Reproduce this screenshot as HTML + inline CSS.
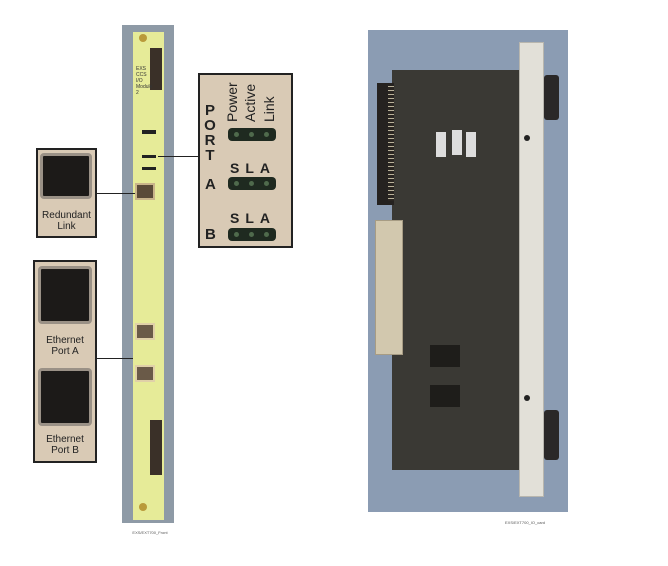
<!DOCTYPE html>
<html><head><style>
body{margin:0;width:668px;height:566px;background:#fff;position:relative;overflow:hidden;font-family:"Liberation Sans",sans-serif}
div{position:absolute;box-sizing:border-box}
.box{background:#d9cab5;border:2px solid #222}
.jack{background:#1c1a18;border:3px solid #9a9186;border-radius:4px}
.strip{background:#1f2a20;border-radius:4px}
.dot{width:5px;height:5px;border-radius:50%;background:#4f6a4c;top:4px}
.line{background:#222;height:1px}
.lbl{font-size:10px;color:#222;text-align:center;line-height:11px}
.sla{font-size:14px;font-weight:bold;color:#222;letter-spacing:6px}
.rot{transform:rotate(-90deg);transform-origin:left top;font-size:14px;color:#222;white-space:nowrap}
</style></head><body>
<!-- left faceplate -->
<div style="left:122px;top:25px;width:52px;height:498px;background:#8e9aa6"></div>
<div style="left:133px;top:32px;width:31px;height:488px;background:#e6eb98"></div>
<div style="left:150px;top:48px;width:12px;height:42px;background:#3a3028"></div>
<div style="left:150px;top:420px;width:12px;height:55px;background:#3a3028"></div>
<div style="left:139px;top:34px;width:8px;height:8px;border-radius:50%;background:#b99a3a"></div>
<div style="left:139px;top:503px;width:8px;height:8px;border-radius:50%;background:#b99a3a"></div>
<div style="left:136px;top:66px;font-size:5px;line-height:6px;color:#333">EXS<br>CCS<br>I/O<br>Module<br>2</div>
<div style="left:142px;top:130px;width:14px;height:4px;background:#222"></div>
<div style="left:142px;top:155px;width:14px;height:3px;background:#222"></div>
<div style="left:142px;top:167px;width:14px;height:3px;background:#222"></div>
<div style="left:135px;top:183px;width:20px;height:17px;background:#5a4a38;border:2px solid #c9b48a"></div>
<div style="left:135px;top:323px;width:20px;height:17px;background:#6a5a48;border:2px solid #e0d0a8"></div>
<div style="left:135px;top:365px;width:20px;height:17px;background:#6a5a48;border:2px solid #e0d0a8"></div>
<div style="left:125px;top:530px;width:50px;font-size:4px;color:#555;text-align:center">EXS/EXT700_Front</div>
<!-- connector lines -->
<div class="line" style="left:97px;top:193px;width:38px"></div>
<div class="line" style="left:97px;top:358px;width:36px"></div>
<div class="line" style="left:158px;top:156px;width:40px"></div>
<!-- redundant box -->
<div class="box" style="left:36px;top:148px;width:61px;height:90px"></div>
<div class="jack" style="left:40px;top:153px;width:52px;height:46px"></div>
<div class="lbl" style="left:36px;top:210px;width:61px">Redundant<br>Link</div>
<!-- ethernet box -->
<div class="box" style="left:33px;top:260px;width:64px;height:203px"></div>
<div class="jack" style="left:38px;top:266px;width:54px;height:58px"></div>
<div class="lbl" style="left:33px;top:335px;width:64px">Ethernet<br>Port A</div>
<div class="jack" style="left:38px;top:368px;width:54px;height:58px"></div>
<div class="lbl" style="left:33px;top:434px;width:64px">Ethernet<br>Port B</div>
<!-- LED box -->
<div class="box" style="left:198px;top:73px;width:95px;height:175px"></div>
<div style="left:203px;top:103px;font-size:15px;font-weight:bold;line-height:15px;color:#222;text-align:center;width:14px">P<br>O<br>R<br>T</div>
<div class="rot" style="left:224px;top:122px">Power</div>
<div class="rot" style="left:242px;top:122px">Active</div>
<div class="rot" style="left:261px;top:122px">Link</div>
<div class="strip" style="left:228px;top:128px;width:48px;height:13px"><div class="dot" style="left:6px"></div><div class="dot" style="left:21px"></div><div class="dot" style="left:36px"></div></div>
<div class="sla" style="left:230px;top:160px">SLA</div>
<div style="left:205px;top:176px;font-size:15px;font-weight:bold;color:#222">A</div>
<div class="strip" style="left:228px;top:177px;width:48px;height:13px"><div class="dot" style="left:6px"></div><div class="dot" style="left:21px"></div><div class="dot" style="left:36px"></div></div>
<div class="sla" style="left:230px;top:210px">SLA</div>
<div style="left:205px;top:226px;font-size:15px;font-weight:bold;color:#222">B</div>
<div class="strip" style="left:228px;top:228px;width:48px;height:13px"><div class="dot" style="left:6px"></div><div class="dot" style="left:21px"></div><div class="dot" style="left:36px"></div></div>
<!-- right photo -->
<div style="left:368px;top:30px;width:200px;height:482px;background:#8b9cb3"></div>
<div style="left:392px;top:70px;width:128px;height:400px;background:#3a3934"></div>
<div style="left:377px;top:83px;width:17px;height:122px;background:#252220"></div>
<div style="left:388px;top:86px;width:6px;height:115px;background:repeating-linear-gradient(#b9b29a 0 1px,#2a2622 1px 4px)"></div>
<div style="left:375px;top:220px;width:28px;height:135px;background:#d2c8ae;border:1px solid #a79c84"></div>
<div style="left:436px;top:132px;width:10px;height:25px;background:#ddd"></div>
<div style="left:452px;top:130px;width:10px;height:25px;background:#ddd"></div>
<div style="left:466px;top:132px;width:10px;height:25px;background:#ddd"></div>
<div style="left:430px;top:345px;width:30px;height:22px;background:#1e1d1a"></div>
<div style="left:430px;top:385px;width:30px;height:22px;background:#1e1d1a"></div>
<div style="left:519px;top:42px;width:25px;height:455px;background:#e2e0d8;border:1px solid #b8b6ae"></div>
<div style="left:524px;top:135px;width:6px;height:6px;border-radius:50%;background:#222"></div>
<div style="left:524px;top:395px;width:6px;height:6px;border-radius:50%;background:#222"></div>
<div style="left:544px;top:75px;width:15px;height:45px;background:#2a2828;border-radius:3px"></div>
<div style="left:544px;top:410px;width:15px;height:50px;background:#2a2828;border-radius:3px"></div>
<div style="left:500px;top:520px;width:50px;font-size:4px;color:#555;text-align:center">EXS/EXT700_IO_card</div>
</body></html>
